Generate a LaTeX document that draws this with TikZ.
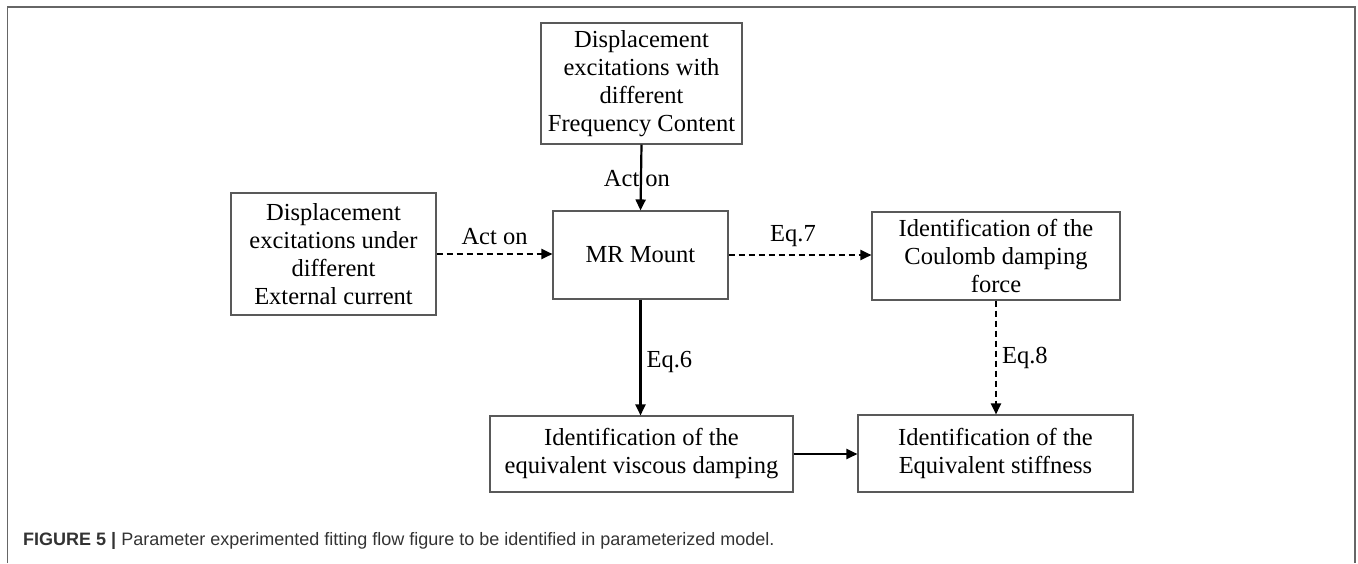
\documentclass[tikz,border=0pt]{standalone}
\usepackage{fontspec}
\setmainfont{Liberation Serif}
\newfontfamily\capfont{Liberation Sans}
\usetikzlibrary{arrows.meta}
\begin{document}
\begin{tikzpicture}[x=1pt,y=-1pt,
  box/.style={draw=black!65, line width=1.1pt, align=center, inner sep=0pt,
    font=\fontsize{24.5}{28}\selectfont},
  flow/.style={line width=2.2pt, -{Triangle[length=11pt,width=10pt]}},
  flowdash/.style={flow, dash pattern=on 6.5pt off 3.5pt},
  lbl/.style={font=\fontsize{24.5}{28}\selectfont, inner sep=0pt}]
\useasboundingbox (0,0) rectangle (1358,563);
% outer frame, open at the bottom
\draw[black!60, line width=1.4pt] (7.5,563) -- (7.5,7) -- (1355,7) -- (1355,563);

% blocks, placed by their centres
\node[box, minimum width=201pt, minimum height=121pt] (freq) at (641.5,83.5)
  {Displacement\\excitations with\\different\\Frequency Content};
\node[box, minimum width=205pt, minimum height=122pt] (curr) at (333.5,254)
  {Displacement\\excitations under\\different\\External current};
\node[box, minimum width=175pt, minimum height=88pt] (mr) at (640.5,255)
  {MR Mount};
\node[box, minimum width=248pt, minimum height=88pt] (coul) at (996,256)
  {Identification of the\\Coulomb damping\\force};
\node[box, minimum width=303pt, minimum height=76pt] (visc) at (641.5,454)
  {Identification of the\\equivalent viscous damping};
\node[box, minimum width=275pt, minimum height=77pt] (stif) at (995.5,453.5)
  {Identification of the\\Equivalent stiffness};

% connectors
\draw[flow] (freq.south) -- node[lbl, pos=0.52, xshift=-4pt] {Act on} (mr.north);
\draw[flowdash] (curr.east) -- node[lbl, above=8pt] {Act on} (mr.west |- curr.east);
\draw[flowdash] (mr.east) -- node[lbl, above=7pt, xshift=-7pt] {Eq.7} (coul.west |- mr.east);
\draw[flow] (mr.south) -- node[lbl, right=5pt, pos=0.54] {Eq.6} (visc.north -| mr.south);
\draw[flowdash] (coul.south) -- node[lbl, right=5pt, pos=0.5] {Eq.8} (stif.north -| coul.south);
\draw[flow] (visc.east) -- (stif.west |- visc.east);

% caption
\node[anchor=west, inner sep=0pt, font=\capfont\fontsize{18}{20}\selectfont, text=black!80] (cap) at (23,541)
  {\textbf{FIGURE 5 |} Parameter experimented fitting flow figure to be identified in parameterized model.};
\end{tikzpicture}
\end{document}
